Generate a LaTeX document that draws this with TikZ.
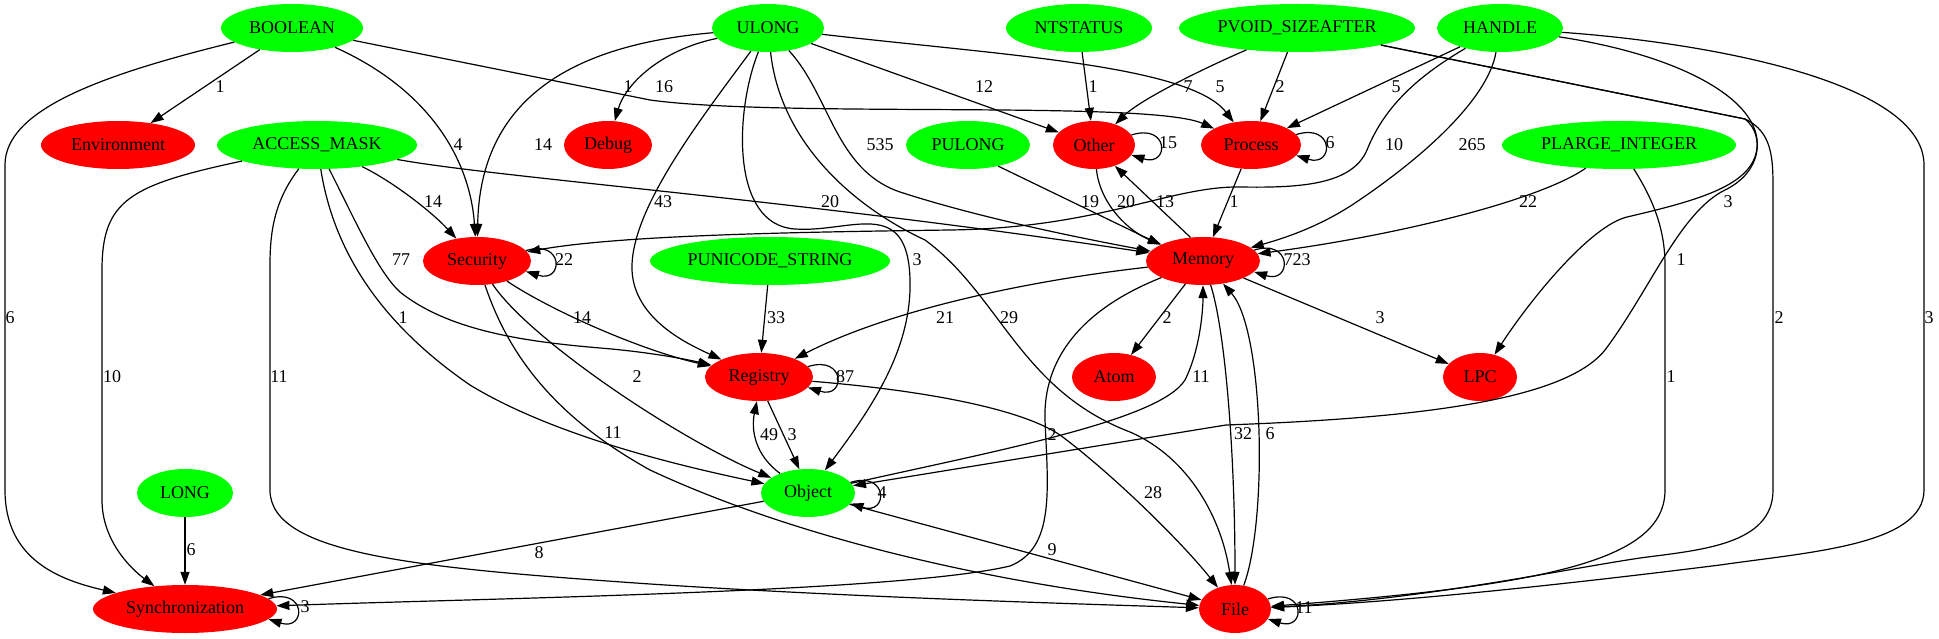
\documentclass[tikz,border=0pt]{standalone}
\usepackage{fontspec}
\setmainfont{Liberation Serif}
\usepackage{tikz}
\usetikzlibrary{shapes.geometric,arrows.meta}

\begin{document}
\begin{tikzpicture}[x=1pt, y=-1pt, font=\fontsize{18pt}{20pt}\selectfont,
        typenode/.style={ellipse, fill=green, inner sep=0pt, minimum height=48pt},
        catnode/.style={ellipse, fill=red, inner sep=0pt, minimum height=48pt},
        dep/.style={-{Triangle[length=13pt, width=9pt]}, line width=1.2pt},
        lab/.style={inner sep=0pt}]
        \useasboundingbox (0, 0) rectangle (1939, 639);
        \node (boolean) at (292, 28) [typenode, minimum width=142pt] {BOOLEAN};
        \node (ulong) at (768, 28) [typenode, minimum width=112pt] {ULONG};
        \node (ntstatus) at (1079, 28) [typenode, minimum width=146pt] {NTSTATUS};
        \node (pvoid) at (1297, 28) [typenode, minimum width=236pt] {PVOID\_SIZEAFTER};
        \node (handle) at (1500, 28) [typenode, minimum width=126pt] {HANDLE};
        \node (env) at (118, 145) [catnode, minimum width=154pt] {Environment};
        \node (accessmask) at (317, 145) [typenode, minimum width=200pt] {ACCESS\_MASK};
        \node (debug) at (608, 145) [catnode, minimum width=88pt] {Debug};
        \node (pulong) at (968, 145) [typenode, minimum width=124pt] {PULONG};
        \node (other) at (1094, 145) [catnode, minimum width=82pt] {Other};
        \node (process) at (1251, 145) [catnode, minimum width=100pt] {Process};
        \node (plarge) at (1619, 145) [typenode, minimum width=234pt] {PLARGE\_INTEGER};
        \node (security) at (477, 261) [catnode, minimum width=108pt] {Security};
        \node (punicode) at (770, 261) [typenode, minimum width=240pt] {PUNICODE\_STRING};
        \node (memory) at (1203, 261) [catnode, minimum width=114pt] {Memory};
        \node (registry) at (759, 377) [catnode, minimum width=108pt] {Registry};
        \node (atom) at (1114, 377) [catnode, minimum width=84pt] {Atom};
        \node (lpc) at (1480, 377) [catnode, minimum width=74pt] {LPC};
        \node (long) at (185, 493) [typenode, minimum width=96pt] {LONG};
        \node (object) at (808, 493) [typenode, minimum width=94pt] {Object};
        \node (sync) at (185, 609) [catnode, minimum width=184pt] {Synchronization};
        \node (file) at (1235, 609) [catnode, minimum width=72pt] {File};
        \draw [dep] (boolean) -- (env) node [lab] (c1) at (220, 87) {1};
        \draw [dep] (boolean) .. controls (430, 90) and (470, 160) .. (security) node [lab] (c2) at (458, 145) {4};
        \draw [dep] (boolean) -- (650, 100) .. controls (780, 118) and (1150, 100) .. (process) node [lab] (c3) at (628, 87) {1};
        \draw [dep] (boolean) .. controls (100, 75) and (5, 110) .. (5, 165) -- (5, 490) .. controls (5, 560) and (60, 580) .. (sync) node [lab] (c4) at (10, 318) {6};
        \draw [dep] (ulong) .. controls (660, 50) and (625, 85) .. (debug) node [lab] (c5) at (664, 87) {16};
        \draw [dep] (ulong) .. controls (570, 45) and (480, 100) .. (security) node [lab] (c6) at (543, 145) {14};
        \draw [dep] (ulong) .. controls (700, 120) and (630, 210) .. (632, 270) .. controls (634, 320) and (690, 345) .. (registry) node [lab] (c7) at (663, 202) {43};
        \draw [dep] (ulong) .. controls (735, 110) and (730, 225) .. (795, 229) .. controls (850, 233) and (908, 195) .. (910, 280) .. controls (912, 350) and (870, 410) .. (object) node [lab] (c8) at (917, 260) {3};
        \draw [dep] (ulong) .. controls (780, 140) and (850, 205) .. (925, 240) .. controls (1000, 295) and (1020, 390) .. (1130, 432) .. controls (1190, 458) and (1222, 520) .. (file) node [lab] (c9) at (1009, 318) {29};
        \draw [dep] (ulong) .. controls (830, 95) and (835, 170) .. (900, 192) .. controls (980, 218) and (1080, 238) .. (memory) node [lab] (c10) at (880, 145) {535};
        \draw [dep] (ulong) -- (other) node [lab] (c11) at (984, 87) {12};
        \draw [dep] (ulong) .. controls (1000, 55) and (1190, 65) .. (process) node [lab] (c12) at (1220, 87) {5};
        \draw [dep] (ntstatus) -- (other) node [lab] (c13) at (1093, 87) {1};
        \draw [dep] (pvoid) .. controls (1200, 70) and (1140, 100) .. (other) node [lab] (c14) at (1188, 87) {7};
        \draw [dep] (pvoid) -- (process) node [lab] (c15) at (1280, 87) {2};
        \draw [dep] (pvoid) -- (1745, 119) .. controls (1773, 132) and (1773, 160) .. (1773, 190) -- (1773, 490) .. controls (1773, 545) and (1700, 550) .. (1640, 558) .. controls (1560, 570) and (1420, 600) .. (file) node [lab] (c16) at (1779, 318) {2};
        \draw [dep] (pvoid) -- (1745, 119) .. controls (1765, 135) and (1762, 172) .. (1725, 190) .. controls (1680, 212) and (1650, 290) .. (1605, 350) .. controls (1565, 400) and (1420, 418) .. (1226, 425) -- (object) node [lab] (c17) at (1681, 260) {1};
        \draw [dep] (handle) -- (process) node [lab] (c18) at (1396, 87) {5};
        \draw [dep] (handle) .. controls (1420, 75) and (1385, 105) .. (1367, 150) .. controls (1352, 185) and (1300, 188) .. (1240, 187) .. controls (1170, 186) and (1100, 228) .. (950, 230) .. controls (800, 232) and (620, 235) .. (security) node [lab] (c19) at (1394, 145) {10};
        \draw [dep] (handle) .. controls (1488, 100) and (1420, 160) .. (1352, 205) .. controls (1318, 227) and (1285, 238) .. (memory) node [lab] (c20) at (1472, 145) {265};
        \draw [dep] (handle) .. controls (1680, 55) and (1762, 100) .. (1757, 148) .. controls (1753, 185) and (1700, 200) .. (1627, 217) .. controls (1590, 226) and (1530, 300) .. (lpc) node [lab] (c21) at (1728, 202) {3};
        \draw [dep] (handle) .. controls (1700, 42) and (1924, 80) .. (1924, 165) -- (1924, 490) .. controls (1924, 545) and (1810, 552) .. (1720, 565) .. controls (1560, 585) and (1400, 602) .. (file) node [lab] (c22) at (1929, 318) {3};
        \draw [dep] (plarge) .. controls (1540, 200) and (1400, 235) .. (memory) node [lab] (c23) at (1528, 202) {22};
        \draw [dep] (plarge) .. controls (1650, 195) and (1665, 225) .. (1665, 265) -- (1665, 490) .. controls (1665, 560) and (1550, 585) .. (file) node [lab] (c24) at (1671, 377) {1};
        \draw [dep] (accessmask) .. controls (390, 180) and (430, 210) .. (security) node [lab] (c25) at (433, 202) {14};
        \draw [dep] (accessmask) .. controls (500, 178) and (800, 200) .. (memory) node [lab] (c26) at (830, 202) {20};
        \draw [dep] (accessmask) .. controls (355, 220) and (378, 272) .. (400, 292) .. controls (450, 332) and (530, 342) .. (600, 348) .. controls (650, 352) and (690, 360) .. (registry) node [lab] (c27) at (401, 260) {77};
        \draw [dep] (accessmask) .. controls (335, 260) and (390, 330) .. (470, 385) .. controls (560, 440) and (700, 470) .. (object) node [lab] (c28) at (403, 318) {1};
        \draw [dep] (accessmask) .. controls (275, 200) and (270, 230) .. (270, 265) -- (270, 490) .. controls (270, 555) and (420, 568) .. (650, 584) .. controls (850, 597) and (1050, 603) .. (file) node [lab] (c29) at (279, 377) {11};
        \draw [dep] (accessmask) .. controls (130, 185) and (102, 200) .. (102, 270) -- (102, 500) .. controls (102, 540) and (130, 568) .. (sync) node [lab] (c30) at (112, 377) {10};
        \draw [dep] (security.12) .. controls +(38, -12) and +(38, 12) .. (security.-12) node [lab] (c31) at (564, 260) {22};
        \draw [dep] (security) .. controls (550, 310) and (640, 350) .. (registry) node [lab] (c32) at (582, 318) {14};
        \draw [dep] (security) .. controls (530, 340) and (680, 440) .. (object) node [lab] (c33) at (637, 377) {2};
        \draw [dep] (security) .. controls (510, 360) and (560, 420) .. (650, 470) .. controls (800, 540) and (1000, 585) .. (file) node [lab] (c34) at (613, 433) {11};
        \draw [dep] (punicode) -- (registry) node [lab] (c35) at (776, 318) {33};
        \draw [dep] (pulong.-35) -- (memory.159) node [lab] (c36) at (1090, 202) {19};
        \draw [dep] (other.15) .. controls +(38, -12) and +(38, 12) .. (other.-15) node [lab] (c37) at (1168, 143) {15};
        \draw [dep] (other) .. controls (1100, 205) and (1130, 232) .. (memory) node [lab] (c38) at (1126, 202) {20};
        \draw [dep] (memory.118) -- (other.-45) node [lab] (c39) at (1165, 202) {13};
        \draw [dep] (process.13) .. controls +(38, -12) and +(38, 12) .. (process.-13) node [lab] (c40) at (1330, 143) {6};
        \draw [dep] (process) -- (memory) node [lab] (c41) at (1234, 202) {1};
        \draw [dep] (memory.12) .. controls +(38, -12) and +(38, 12) .. (memory.-12) node [lab] (c42) at (1297, 260) {723};
        \draw [dep] (memory) .. controls (1050, 278) and (900, 305) .. (registry) node [lab] (c43) at (945, 318) {21};
        \draw [dep] (memory) -- (atom) node [lab] (c44) at (1167, 318) {2};
        \draw [dep] (memory) -- (lpc) node [lab] (c45) at (1380, 318) {3};
        \draw [dep] (memory) .. controls (1225, 330) and (1235, 450) .. (file) node [lab] (c46) at (1243, 434) {32};
        \draw [dep] (file) .. controls (1268, 520) and (1264, 330) .. (memory) node [lab] (c47) at (1270, 434) {6};
        \draw [dep] (memory) .. controls (1080, 310) and (1043, 360) .. (1045, 420) .. controls (1048, 490) and (1055, 548) .. (1010, 566) .. controls (900, 592) and (500, 598) .. (sync) node [lab] (c48) at (1052, 435) {2};
        \draw [dep] (object) .. controls (1000, 450) and (1160, 420) .. (1185, 380) .. controls (1200, 350) and (1203, 310) .. (memory) node [lab] (c49) at (1201, 377) {11};
        \draw [dep] (registry.12) .. controls +(38, -12) and +(38, 12) .. (registry.-12) node [lab] (c50) at (845, 377) {87};
        \draw [dep] (registry.-70) -- (object.110) node [lab] (c51) at (792, 435) {3};
        \draw [dep] (object.145) .. controls (755, 455) and (751, 430) .. (registry.-95) node [lab] (c52) at (769, 435) {49};
        \draw [dep] (registry) .. controls (920, 390) and (1020, 408) .. (1060, 435) .. controls (1110, 472) and (1180, 540) .. (file) node [lab] (c53) at (1153, 493) {28};
        \draw [dep] (object.14) .. controls +(38, -12) and +(38, 12) .. (object.-14) node [lab] (c54) at (882, 493) {4};
        \draw [dep] (object) -- (sync) node [lab] (c55) at (539, 553) {8};
        \draw [dep] (object) -- (file) node [lab] (c56) at (1052, 550) {9};
        \draw [dep] (long) -- (sync) node [lab] (c57) at (191, 550) {6};
        \draw [dep] (sync.7) .. controls +(38, -12) and +(38, 12) .. (sync.-7) node [lab] (c58) at (305, 607) {3};
        \draw [dep] (file.17) .. controls +(38, -12) and +(38, 12) .. (file.-17) node [lab] (c59) at (1304, 608) {11};
    \end{tikzpicture}
\end{document}
